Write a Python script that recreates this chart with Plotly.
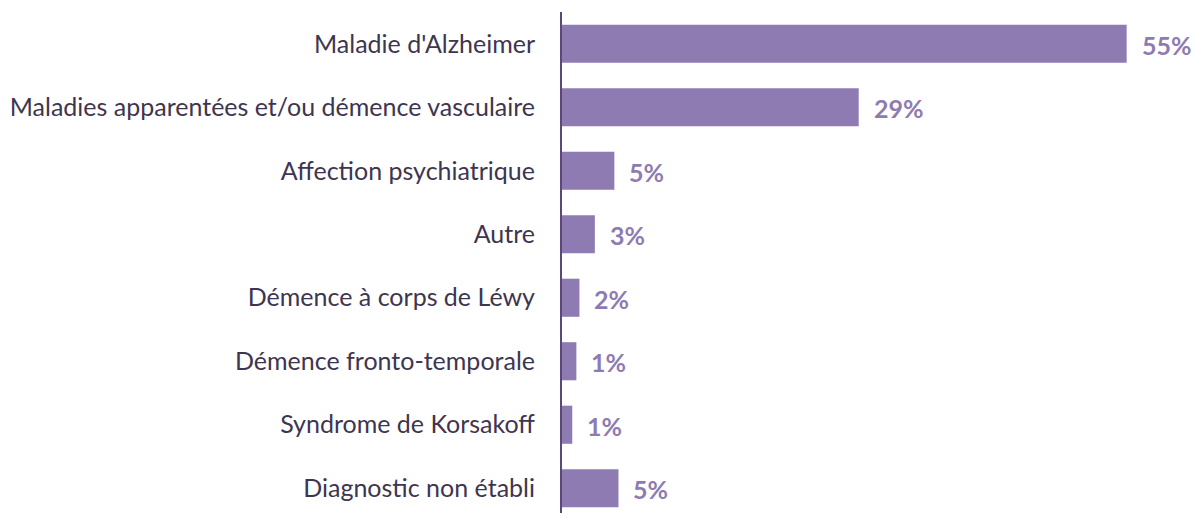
import plotly.graph_objects as go

categories = [
    "Maladie d'Alzheimer",
    "Maladies apparentées et/ou démence vasculaire",
    "Affection psychiatrique",
    "Autre",
    "Démence à corps de Léwy",
    "Démence fronto-temporale",
    "Syndrome de Korsakoff",
    "Diagnostic non établi",
]
values = [55.0, 28.9, 5.1, 3.2, 1.7, 1.4, 1.0, 5.5]
value_labels = ["55%", "29%", "5%", "3%", "2%", "1%", "1%", "5%"]

BAR = "#8E7BB2"
TEXT = "#3E3550"
AXIS = "#5B4879"

fig = go.Figure()
fig.add_trace(go.Bar(
    x=values, y=categories, orientation="h",
    marker=dict(color=BAR, line=dict(width=0)),
    width=0.6, hoverinfo="skip",
))
for c, v, t in zip(categories, values, value_labels):
    fig.add_annotation(x=v, y=c, text="<b>%s</b>" % t, showarrow=False,
                       xanchor="left", xshift=13, yshift=-1,
                       font=dict(family="Lato", size=25, color=BAR))

fig.update_layout(
    width=1197, height=513,
    margin=dict(l=562, r=19, t=12, b=0),
    paper_bgcolor="white", plot_bgcolor="white",
    showlegend=False,
    font=dict(family="Lato", size=25, color=TEXT),
    xaxis=dict(range=[0, 60], visible=False, showgrid=False, zeroline=False),
    yaxis=dict(type="category", categoryorder="array", categoryarray=categories,
               range=[7.39, -0.5], showgrid=False, zeroline=False,
               showline=True, linecolor=AXIS, linewidth=2, ticks="",
               ticklabelstandoff=20,
               tickfont=dict(family="Lato", size=25, color=TEXT)),
)
fig.write_html("out.html", config={"displayModeBar": False},
               post_script="document.body.style.margin='0';document.body.style.padding='0';")
